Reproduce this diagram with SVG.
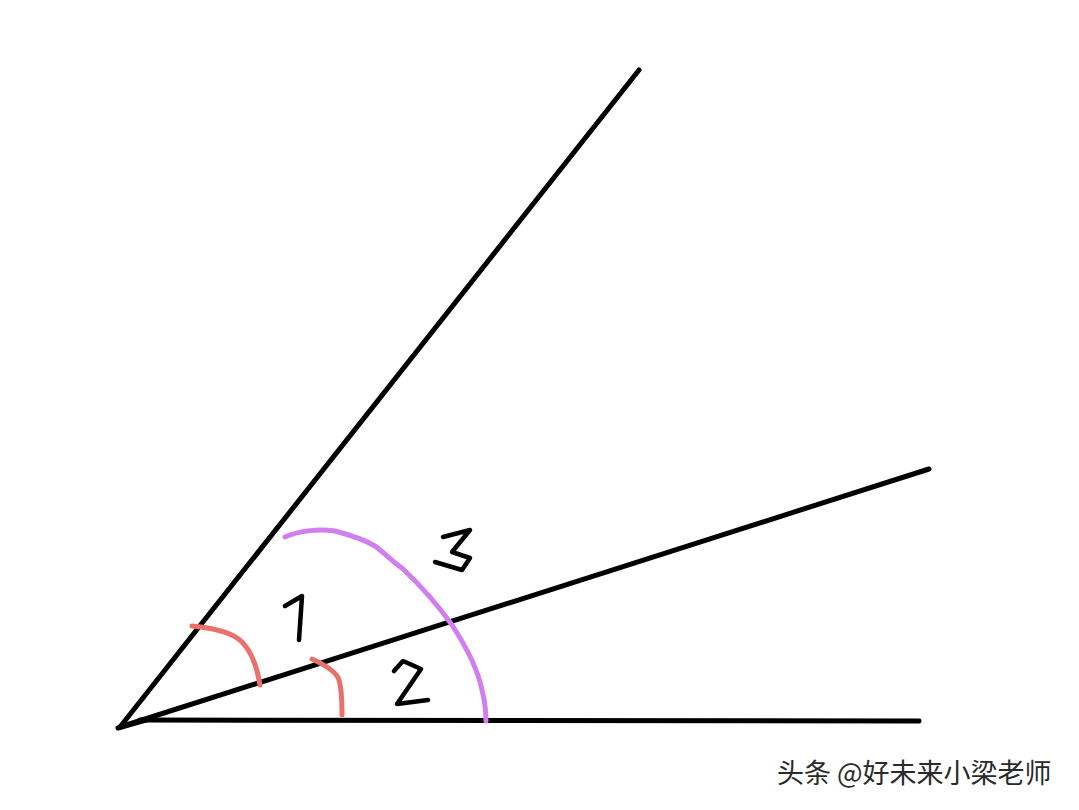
<svg xmlns="http://www.w3.org/2000/svg" width="1079" height="810" viewBox="0 0 1079 810">
<style>
.ray{stroke:#000;stroke-width:5;stroke-linecap:round;fill:none}
.red{stroke:#e8726b;stroke-width:5;stroke-linecap:round;stroke-linejoin:round;fill:none}
.pur{stroke:#d07ef0;stroke-width:5;stroke-linecap:round;stroke-linejoin:round;fill:none}
.num{stroke:#000;stroke-width:4.5;stroke-linecap:round;stroke-linejoin:round;fill:none}
</style>
<rect width="1079" height="810" fill="#fff"/>
<g id="rays">
<line class="ray" x1="120" y1="727" x2="639" y2="70"/>
<line class="ray" x1="120" y1="727" x2="929" y2="469"/>
<line class="ray" x1="118" y1="728" x2="146" y2="720"/>
<line class="ray" x1="140" y1="720" x2="919" y2="721"/>
</g>
<g id="angle1-mark">
<path class="red" d="M192,626 C215,628 233,633 242,642 C252,652 257,667 260,685"/>
</g>
<g id="angle2-mark">
<path class="red" d="M312,659 C325,665 337,672 339,680 C342,690 342,703 342,715"/>
</g>
<g id="angle3-mark">
<path class="pur" d="M285,537 C300,530 320,529 335,531 C350,535 365,540 375,546 C388,556 395,564 402,568 C420,585 440,608 452,625 C465,645 478,670 482,690 C485,702 486,712 486,721"/>
</g>
<g id="labels">
<polyline class="num" points="285,606 302,596 299,640"/>
<polyline class="num" points="394,671 403,661 421,669 397,704 428,700"/>
<polyline class="num" points="443,537 470,530 452,552 470,558 462,570 435,562"/>
</g>
<g id="watermark">
<text x="777" y="783" font-family="'Noto Sans CJK SC', sans-serif" font-size="27" fill="#2a2a2a">头条 @好未来小梁老师</text>
</g>
</svg>
